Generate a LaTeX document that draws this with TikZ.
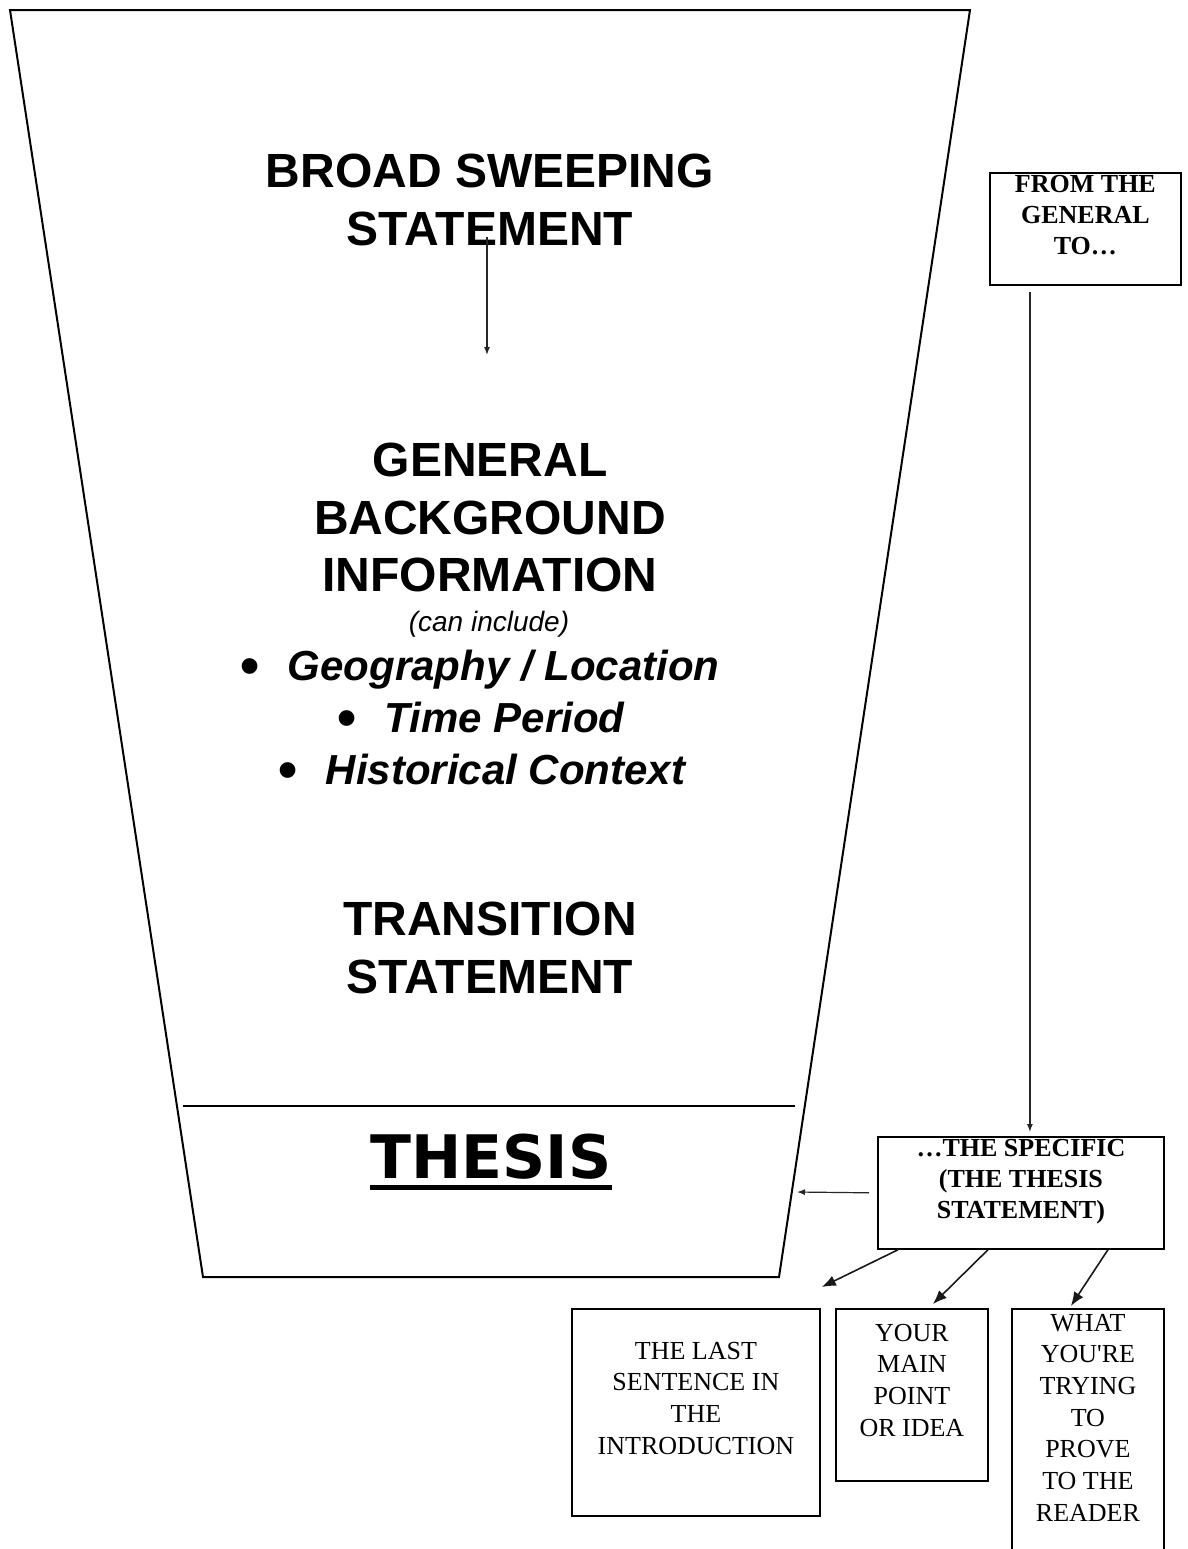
\documentclass[tikz,border=0pt]{standalone}
\usepackage{fontspec}
\usepackage{graphicx}
\setmainfont{Liberation Serif}
\newfontfamily\headfont{Liberation Sans}
\newfontfamily\thesisfont{DejaVu Sans}
\usetikzlibrary{arrows.meta}

\newcommand{\listbullet}{\raisebox{-2pt}{\scalebox{1.3}{\upshape\textbullet}}\hspace{14pt}}

\tikzset{
  funnel/.style={line width=1pt},
  heading/.style={font=\headfont\bfseries\fontsize{24}{28.75}\selectfont, align=center, inner sep=0pt},
  listitem/.style={font=\headfont\bfseries\itshape\fontsize{21}{26}\selectfont, anchor=base, inner sep=0pt},
  aside/.style={font=\headfont\itshape\fontsize{14}{17}\selectfont, anchor=base, inner sep=0pt},
  panel/.style={draw, line width=0.9pt, anchor=north west, inner sep=0pt},
  paneltitle/.style={font=\bfseries\fontsize{13}{15.5}\selectfont, align=center, anchor=north, inner sep=0pt},
  paneltext/.style={font=\fontsize{13}{15.85}\selectfont, align=center, anchor=north, inner sep=0pt},
  pointer/.style={-{Latex[length=4pt,width=3pt]}, line width=0.6pt, black!85},
  fan/.style={-{Latex[length=7pt,width=5.5pt]}, line width=0.8pt, black!90}
}

\begin{document}
\begin{tikzpicture}[x=0.5pt,y=-0.5pt]
  \useasboundingbox (0,0) rectangle (1188,1549);

  % the funnel
  \draw[funnel] (10,10) -- (970,10) -- (779,1277) -- (203,1277) -- cycle;
  \draw[funnel] (183,1106) -- (795,1106);

  \node[heading] (broad) at (490,200) {BROAD SWEEPING\\STATEMENT};
  \coordinate (sweepend) at (487,355);
  \draw[pointer, shorten <=-4.5pt] (sweepend |- broad.south) -- (sweepend);

  \node[heading] (general) at (490,517.5) {GENERAL\\BACKGROUND\\INFORMATION};
  \node[aside] (include) at (489,631) {(can include)};
  \node[listitem] (geo) at (480,680) {\listbullet Geography / Location};
  \node[listitem] (period) at (481,732) {\listbullet Time Period};
  \node[listitem] (context) at (482,784) {\listbullet Historical Context};

  \node[heading] (transition) at (490,948) {TRANSITION\\STATEMENT};

  \node[font=\thesisfont\bfseries\fontsize{30}{36}\selectfont, anchor=base, inner sep=0pt] (thesis) at (491,1178) {THESIS};
  \draw[line width=2.5pt] ([yshift=-4.5pt]thesis.base west) -- ([yshift=-4.5pt]thesis.base east);

  % side boxes
  \node[panel, minimum width=95.5pt, minimum height=56pt] (fromgen) at (989,172) {};
  \node[paneltitle] (fromgentext) at ([yshift=-1.25pt]fromgen.north) {FROM THE\\GENERAL\\TO…};

  \node[panel, minimum width=143pt, minimum height=56pt] (specific) at (877,1136) {};
  \node[paneltitle] (specifictext) at ([yshift=-1.25pt]specific.north) {…THE SPECIFIC\\(THE THESIS\\STATEMENT)};

  \node[panel, minimum width=124pt, minimum height=103.5pt] (lastsent) at (571,1308) {};
  \node[paneltext] (lastsenttext) at ([yshift=-16.75pt]lastsent.north) {THE LAST\\SENTENCE IN\\THE\\INTRODUCTION};

  \node[panel, minimum width=76pt, minimum height=86pt] (mainpt) at (835,1308) {};
  \node[paneltext] (mainpttext) at ([yshift=-7.75pt]mainpt.north) {YOUR\\MAIN\\POINT\\OR IDEA};

  \node[panel, minimum width=76pt, minimum height=130pt] (prove) at (1011,1308) {};
  \node[paneltext] (provetext) at ([yshift=-2.75pt]prove.north) {WHAT\\YOU\textquotesingle RE\\TRYING\\TO\\PROVE\\TO THE\\READER};

  % connectors
  \draw[pointer, shorten <=3pt, shorten >=2pt] ([xshift=-27.75pt]fromgen.south) -- ([xshift=-27.75pt]fromgen.south |- specific.north);
  \coordinate (thesispt) at (797,1192);
  \draw[pointer, shorten <=4pt] (specific.west) -- (thesispt);

  \draw[fan] ([xshift=-61.5pt]specific.south) -- ([xshift=0.5pt,yshift=10.5pt]lastsent.north east);
  \draw[fan] ([xshift=-16.5pt]specific.south) -- ([xshift=10.5pt,yshift=2pt]mainpt.north);
  \draw[fan] ([xshift=43.5pt]specific.south) -- ([xshift=-8.5pt,yshift=1pt]prove.north);
\end{tikzpicture}
\end{document}
